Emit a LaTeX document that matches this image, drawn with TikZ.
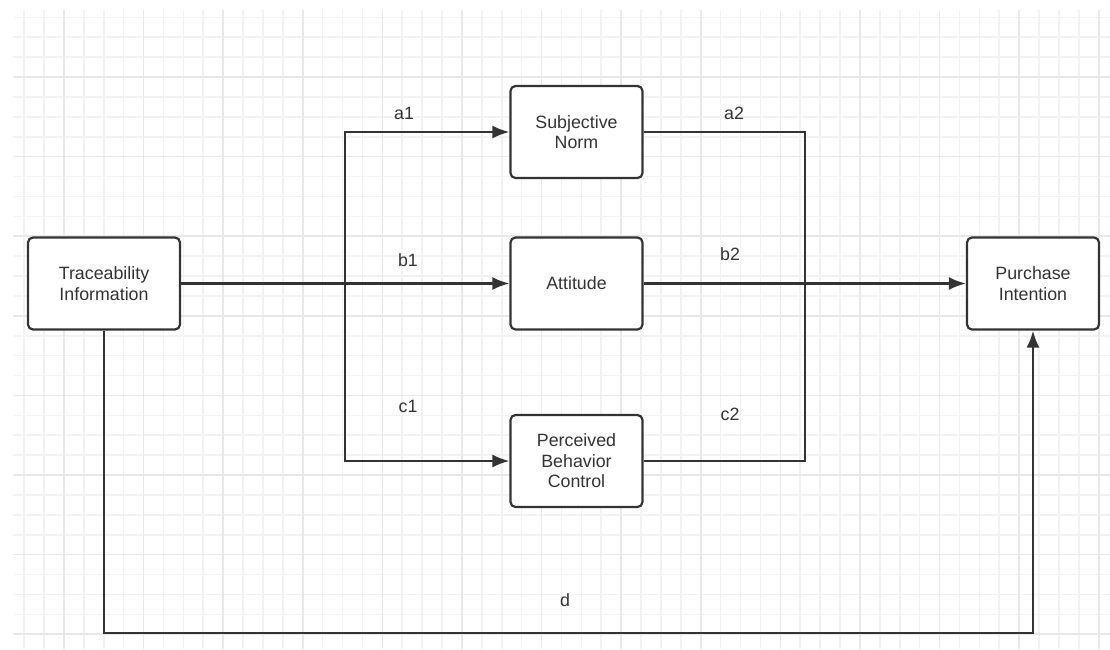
\documentclass[tikz,border=0pt]{standalone}
\usepackage{fontspec}
\setmainfont{Liberation Sans}
\usetikzlibrary{arrows.meta}
\pgfdeclarelayer{gridlayer}
\pgfdeclarelayer{edgelayer}
\pgfdeclarelayer{nodelayer}
\pgfsetlayers{gridlayer,edgelayer,nodelayer,main}
\definecolor{ink}{HTML}{333333}
\definecolor{minorgrid}{HTML}{F2F2F2}
\definecolor{majorgrid}{HTML}{E8E8E8}
\tikzstyle{none}=[inner sep=0pt]
\tikzstyle{minor}=[draw=minorgrid, line width=0.8pt]
\tikzstyle{major}=[draw=majorgrid, line width=0.8pt]
\tikzstyle{factor}=[draw=ink, line width=1.1pt, rounded corners=2.5pt, fill=white, minimum width=66pt, minimum height=46pt, align=center, text=ink, font=\fontsize{8.9}{10.3}\selectfont]
\tikzstyle{coef}=[inner sep=0pt, text=ink, font=\fontsize{8.9}{10.3}\selectfont]
\tikzstyle{link}=[draw=ink, line width=1.1pt]
\tikzstyle{effect}=[link, -{Latex[length=8.5pt,width=6.5pt]}]
\tikzstyle{effects}=[link, {Latex[length=8.5pt,width=6.5pt]}-{Latex[length=8.5pt,width=6.5pt]}]

\begin{document}
\begin{tikzpicture}[x=0.5pt, y=-0.5pt]
	\useasboundingbox (0, 0) rectangle (1110, 649);
	\begin{pgfonlayer}{gridlayer}
		\foreach \k in {1,...,55}
			\draw [style=minor] ({4.2+19.9*\k}, 10) -- ({4.2+19.9*\k}, 649);
		\foreach \k in {1,...,32}
			\draw [style=minor] (13, {-2.6+19.9*\k}) -- (1110, {-2.6+19.9*\k});
		\foreach \k in {3,7,...,55}
			\draw [style=major] ({4.2+19.9*\k}, 10) -- ({4.2+19.9*\k}, 649);
		\foreach \k in {4,8,...,32}
			\draw [style=major] (13, {-2.6+19.9*\k}) -- (1110, {-2.6+19.9*\k});
	\end{pgfonlayer}
	\begin{pgfonlayer}{nodelayer}
		\node [style=factor, minimum width=76pt] (0) at (104, 283.5) {Traceability\\Information};
		\node [style=factor] (1) at (576.5, 132) {Subjective\\Norm};
		\node [style=factor] (2) at (576.5, 283.5) {Attitude};
		\node [style=factor] (3) at (576.5, 461) {Perceived\\Behavior\\Control};
		\node [style=factor] (4) at (1033, 283.5) {Purchase\\Intention};
		\coordinate (5) at (345, 283.5);
		\coordinate (6) at (805, 283.5);
		\coordinate (7) at (565, 633);
		\node [style=coef] (8) at (404, 113) {a1};
		\node [style=coef] (9) at (408, 260) {b1};
		\node [style=coef] (10) at (408, 406) {c1};
		\node [style=coef] (11) at (734, 113) {a2};
		\node [style=coef] (12) at (730, 254) {b2};
		\node [style=coef] (13) at (730, 414) {c2};
		\node [style=coef] (14) at (565, 600) {d};
	\end{pgfonlayer}
	\begin{pgfonlayer}{edgelayer}
		\draw [style=effects] (1.west) -| (5) |- (3.west);
		\draw [style=effect] (0.east) -- (2.west);
		\draw [style=link] (1.east) -| (6) |- (3.east);
		\draw [style=effect] (2.east) -- (4.west);
		\draw [style=effect] (0.south) |- (7) -| (4.south);
	\end{pgfonlayer}
\end{tikzpicture}
\end{document}
